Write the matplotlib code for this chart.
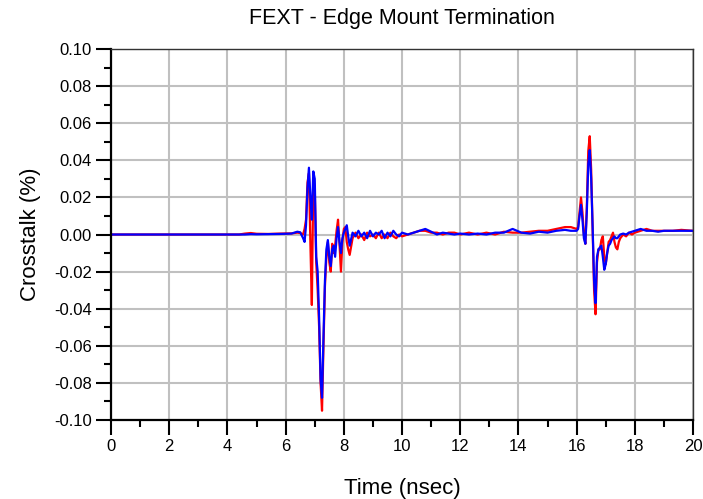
import matplotlib
matplotlib.use("Agg")
import matplotlib.pyplot as plt
import numpy as np
from matplotlib.ticker import MultipleLocator, FuncFormatter

plt.rcParams['font.family'] = ['Liberation Sans', 'DejaVu Sans']

# time axis in nsec, split by region
t_pre = [0.0, 4.4, 4.6, 4.8, 5.0, 5.4, 5.8, 6.2, 6.4, 6.5]
red_pre = [0.0, 0.0, 0.0005, 0.0008, 0.0004, 0.0003, 0.0005, 0.0006, 0.001, 0.0008]
blue_pre = [0.0, 0.0, 0.0, 0.0002, 0.0001, 0.0002, 0.0003, 0.0005, 0.0015, 0.0012]

t_ev1 = [6.6, 6.65, 6.7, 6.75, 6.8, 6.85, 6.9, 6.95, 7.0, 7.05,
         7.1, 7.15, 7.2, 7.25, 7.3, 7.35, 7.4, 7.45, 7.5, 7.55,
         7.6, 7.65, 7.7, 7.75, 7.8, 7.85, 7.9, 7.95, 8.0, 8.05,
         8.1, 8.15, 8.2]
red_ev1 = [0.0, 0.003, 0.008, 0.028, 0.033, -0.005, -0.038, 0.03, 0.025, -0.015,
           -0.03, -0.05, -0.08, -0.095, -0.06, -0.028, -0.012, -0.004, -0.015, -0.02,
           -0.005, -0.01, -0.006, 0.002, 0.008, -0.005, -0.02, -0.004, 0.003, 0.004,
           -0.004, -0.008, -0.011]
blue_ev1 = [-0.002, -0.004, 0.005, 0.025, 0.036, 0.02, 0.008, 0.034, 0.03, -0.012,
            -0.02, -0.045, -0.078, -0.088, -0.055, -0.025, -0.008, -0.003, -0.012, -0.017,
            -0.008, -0.006, -0.012, -0.002, 0.004, -0.004, -0.01, -0.002, 0.001, 0.003,
            0.005, -0.001, -0.006]

t_mid = [8.3, 8.4, 8.5, 8.6, 8.7, 8.8, 8.9, 9.0, 9.1, 9.2,
         9.3, 9.4, 9.5, 9.6, 9.7, 9.8, 9.9, 10.0, 10.2, 10.4,
         10.6, 10.8, 11.0, 11.2, 11.4, 11.6, 11.8, 12.0, 12.3, 12.6,
         12.9, 13.2, 13.5, 13.8, 14.1, 14.4, 14.7, 15.0, 15.3, 15.6,
         15.8, 16.0]
red_mid = [-0.002, 0.001, -0.002, 0.0, -0.003, 0.001, -0.001, 0.0, -0.002, 0.001,
           -0.002, 0.0, -0.002, 0.001, -0.001, -0.002, 0.0, -0.001, 0.0, 0.001,
           0.002, 0.002, 0.001, 0.001, 0.0, 0.001, 0.001, 0.0, 0.001, 0.0,
           0.001, 0.0, 0.0015, 0.001, 0.001, 0.0015, 0.002, 0.002, 0.003, 0.004,
           0.004, 0.003]
blue_mid = [0.001, -0.001, 0.002, -0.001, 0.001, -0.002, 0.002, -0.001, 0.001, 0.0,
            0.002, -0.002, 0.001, -0.001, 0.002, 0.0, -0.001, 0.001, 0.0, 0.001,
            0.002, 0.003, 0.0015, 0.0, 0.001, 0.0005, 0.0, 0.0005, 0.0, 0.0005,
            0.0, 0.001, 0.001, 0.003, 0.001, 0.0005, 0.0015, 0.001, 0.002, 0.0025,
            0.002, 0.002]

t_ev2 = [16.05, 16.1, 16.15, 16.2, 16.25, 16.3, 16.35, 16.4, 16.45, 16.5,
         16.55, 16.6, 16.65, 16.7, 16.75, 16.8, 16.85, 16.9, 16.95, 17.0,
         17.05, 17.1, 17.15, 17.2, 17.25, 17.3, 17.35, 17.4, 17.45, 17.5,
         17.6, 17.7, 17.8, 17.9, 18.0, 18.2, 18.4, 18.6, 18.8, 19.0,
         19.3, 19.6, 20.0]
red_ev2 = [0.004, 0.012, 0.02, 0.012, 0.0, -0.005, 0.015, 0.045, 0.053, 0.035,
           0.002, -0.03, -0.043, -0.015, -0.008, -0.008, -0.003, -0.001, -0.012, -0.016,
           -0.01, -0.004, -0.003, -0.001, 0.001, -0.004, -0.007, -0.008, -0.004, -0.002,
           0.0, -0.001, 0.001, 0.0, 0.001, 0.002, 0.003, 0.002, 0.002, 0.002,
           0.002, 0.0025, 0.002]
blue_ev2 = [0.003, 0.01, 0.016, 0.008, -0.002, -0.005, 0.012, 0.038, 0.0455, 0.03,
            0.004, -0.025, -0.037, -0.012, -0.008, -0.007, -0.006, -0.012, -0.019, -0.016,
            -0.01, -0.006, -0.005, -0.003, -0.002, -0.001, -0.002, -0.002, -0.001, 0.0,
            0.0005, 0.0, 0.001, 0.0015, 0.002, 0.003, 0.002, 0.002, 0.0015, 0.002,
            0.002, 0.002, 0.002]

t = np.concatenate([t_pre, t_ev1, t_mid, t_ev2])
red = np.concatenate([red_pre, red_ev1, red_mid, red_ev2])
blue = np.concatenate([blue_pre, blue_ev1, blue_mid, blue_ev2])

fig = plt.figure(figsize=(7.03, 4.99), dpi=100)
ax = fig.add_axes([0.158, 0.1583, 0.8278, 0.7435])

ax.plot(t, red, color='#ff0000', lw=1.6)
ax.plot(t, blue, color='#0000ff', lw=1.6)

ax.set_xlim(0, 20)
ax.set_ylim(-0.10, 0.10)
ax.xaxis.set_major_locator(MultipleLocator(2))
ax.xaxis.set_minor_locator(MultipleLocator(1))
ax.yaxis.set_major_locator(MultipleLocator(0.02))
ax.yaxis.set_minor_locator(MultipleLocator(0.01))
ax.yaxis.set_major_formatter(FuncFormatter(
    lambda v, pos: '0.00' if abs(v) < 1e-9 else f'{v:.2f}'))

ax.grid(True, which='major', color='#c0c0c0', lw=1.5)
ax.set_axisbelow(True)
ax.tick_params(which='major', direction='out', length=11, width=1.5,
               labelsize=12, pad=3)
ax.tick_params(which='minor', direction='out', length=5, width=1.5)

for side in ('left', 'bottom'):
    ax.spines[side].set_linewidth(1.6)
    ax.spines[side].set_color('black')
for side in ('top', 'right'):
    ax.spines[side].set_linewidth(1.0)
    ax.spines[side].set_color('#333333')

ax.set_title('FEXT - Edge Mount Termination', fontsize=15.5, pad=18)
ax.set_xlabel('Time (nsec)', fontsize=16, labelpad=17)
ax.set_ylabel('Crosstalk (%)', fontsize=16, labelpad=9)

fig.savefig('out.png', dpi=100)
